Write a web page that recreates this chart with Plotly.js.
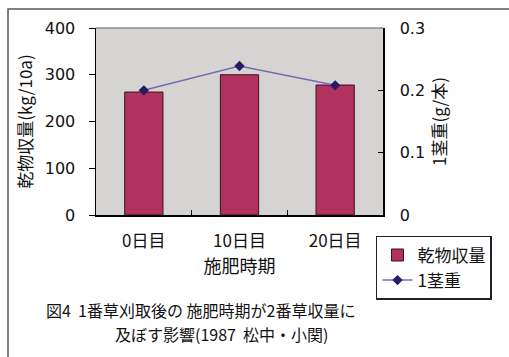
<!DOCTYPE html>
<html><head><meta charset="utf-8">
<script src="https://cdn.plot.ly/plotly-3.0.1.min.js"></script>
<style>html,body{margin:0;padding:0;background:#fff;}#chart{width:509px;height:357px;}</style>
</head><body><div id="chart"></div>
<script>
const categories = ['0日目', '10日目', '20日目'];
const dryMatterYield = [263, 300, 278];
const stemWeight = [0.200, 0.239, 0.208];
const leftTicks = [0, 100, 200, 300, 400];
const rightTicks = [0, 0.1, 0.2, 0.3];
const rightTickText = ['0', '0.1', '0.2', '0.3'];

const jp = '"Noto Sans CJK JP", "Liberation Sans", Arial, sans-serif';
const num = '"DejaVu Sans", "Liberation Sans", Arial, sans-serif';

const data = [
  {type: 'bar', name: '乾物収量', x: categories, y: dryMatterYield,
   marker: {color: '#b2325f', line: {color: '#3a1020', width: 1}}, yaxis: 'y'},
  {type: 'scatter', mode: 'lines+markers', name: '1茎重', x: categories, y: stemWeight,
   line: {color: '#7a68b0', width: 1.5},
   marker: {symbol: 'diamond', size: 8, color: '#2a1a66'}, yaxis: 'y2'}
];

const layout = {
  width: 509, height: 357,
  margin: {l: 96, r: 126, t: 28, b: 142},
  paper_bgcolor: '#ffffff', plot_bgcolor: '#d6d4d2',
  bargap: 0.6,
  showlegend: true,
  font: {family: jp, color: '#111', size: 14},
  xaxis: {
    type: 'category', showline: true, linecolor: '#000', linewidth: 1.5,
    ticks: 'inside', tickson: 'boundaries', ticklen: 5, tickcolor: '#000',
    ticklabelstandoff: 10,
    tickfont: {family: jp, size: 17, color: '#111'},
    title: {text: '施肥時期', font: {family: jp, size: 18, color: '#111'}, standoff: 6},
    showgrid: false, zeroline: false
  },
  yaxis: {
    range: [0, 400], tickvals: leftTicks, ticks: 'outside', ticklen: 6, tickcolor: '#000',
    showline: true, linecolor: '#000', linewidth: 1.5, showgrid: false, zeroline: false,
    tickfont: {family: num, size: 16, color: '#111'}, ticklabelstandoff: 10,
    title: {text: '乾物収量(kg/10a)', font: {family: jp, size: 17, color: '#111'}, standoff: 8}
  },
  yaxis2: {
    overlaying: 'y', side: 'right', range: [0, 0.3], tickvals: rightTicks, ticktext: rightTickText,
    ticks: 'inside', ticklen: 5, tickcolor: '#000',
    showline: true, linecolor: '#000', linewidth: 1.5, showgrid: false, zeroline: false,
    tickfont: {family: num, size: 16, color: '#111'}, ticklabelstandoff: 12,
    title: {text: '1茎重(g/本)', font: {family: jp, size: 17, color: '#111'}, standoff: 10}
  },
  legend: {
    x: 0.9756, y: -0.112, xanchor: 'left', yanchor: 'top',
    bgcolor: '#ffffff', bordercolor: '#222', borderwidth: 1.5,
    font: {family: jp, size: 17, color: '#111'}, traceorder: 'normal',
    itemwidth: 30, tracegroupgap: 0
  },
  shapes: [
    {type: 'line', xref: 'paper', yref: 'paper', x0: 0, x1: 1, y0: 1, y1: 1,
     line: {color: '#888', width: 1.5}},
    {type: 'rect', xref: 'paper', yref: 'paper', x0: -0.3066, x1: 1.5, y0: 1.1016, y1: -1.0,
     line: {color: '#555', width: 1.5}, layer: 'below'}
  ],
  annotations: [
    {xref: 'paper', yref: 'paper', x: (44 - 96) / 287, y: (215 - 310) / 187, xanchor: 'left', yanchor: 'middle',
     text: '図4  1番草刈取後の 施肥時期が2番草収量に', showarrow: false,
     font: {family: jp, size: 16, color: '#111'}},
    {xref: 'paper', yref: 'paper', x: (113 - 96) / 287, y: (215 - 334) / 187, xanchor: 'left', yanchor: 'middle',
     text: '及ぼす影響(1987  松中・小関)', showarrow: false,
     font: {family: jp, size: 16, color: '#111'}}
  ]
};

Plotly.newPlot('chart', data, layout, {displayModeBar: false, staticPlot: true});
</script></body></html>
